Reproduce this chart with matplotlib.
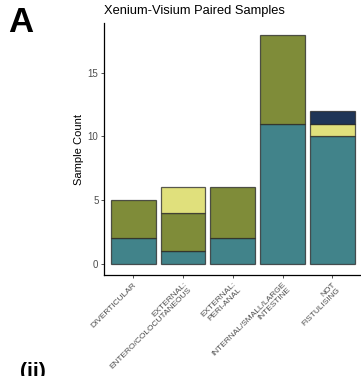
import matplotlib
matplotlib.use("Agg")
import matplotlib.pyplot as plt
import numpy as np

plt.rcParams['font.family'] = ['Liberation Sans', 'DejaVu Sans']

categories = ["DIVERTICULAR", "EXTERNAL:\nENTERO/COLOCUTANEOUS", "EXTERNAL:\nPERI-ANAL",
              "INTERNAL/SMALL/LARGE\nINTESTINE", "NOT\nFISTULISING"]
teal = [2, 1, 2, 11, 10]
olive = [3, 3, 4, 7, 0]
yellow = [0, 2, 0, 0, 1]
navy = [0, 0, 0, 0, 1]
series = [teal, olive, yellow, navy]
colors = ["#41838A", "#7F8C39", "#E0E07C", "#1F3557"]
yticks = [0, 5, 10, 15]

W, H = 361, 376
fig = plt.figure(figsize=(W / 100, H / 100), dpi=100)
ax = fig.add_axes([104 / W, 1 - 275 / H, (W - 104) / W, (275 - 23.4) / H])

x = np.arange(1, len(categories) + 1)
bottom = np.zeros(len(categories))
for vals, c in zip(series, colors):
    v = np.array(vals, dtype=float)
    mask = v > 0
    ax.bar(x[mask], v[mask], bottom=bottom[mask], width=0.9, color=c,
           edgecolor=(0.15, 0.15, 0.15, 0.75), linewidth=0.9)
    bottom += v

ax.set_xlim(0.41, 0.41 + (W - 104) / 49.75)
ax.set_ylim(-0.9, 18.9)
ax.set_yticks(yticks)
ax.set_xticks(x)
ax.set_xticklabels(categories, rotation=45, ha='right', va='top',
                   rotation_mode='anchor', multialignment='right',
                   fontsize=6, color='#4d4d4d', linespacing=0.95)
ax.tick_params(axis='y', labelsize=7, labelcolor='#4d4d4d', color='#333333',
               length=2.5, width=0.6, pad=1.5)
ax.tick_params(axis='x', color='#333333', length=2.5, width=0.6, pad=2)
for s in ['top', 'right']:
    ax.spines[s].set_visible(False)
for s in ['left', 'bottom']:
    ax.spines[s].set_linewidth(0.9)
    ax.spines[s].set_color('black')

ax.set_ylabel("Sample Count", fontsize=8, labelpad=3)
ax.set_title("Xenium-Visium Paired Samples", fontsize=9.3, loc='left', pad=7)

fig.text(8 / W, 1 - 6 / H, "A", fontsize=25, fontweight='bold', ha='left', va='top')
fig.text(20 / W, 1 - 362 / H, "(ii)", fontsize=15, fontweight='bold', ha='left', va='top')

fig.savefig("out.png", dpi=100)
